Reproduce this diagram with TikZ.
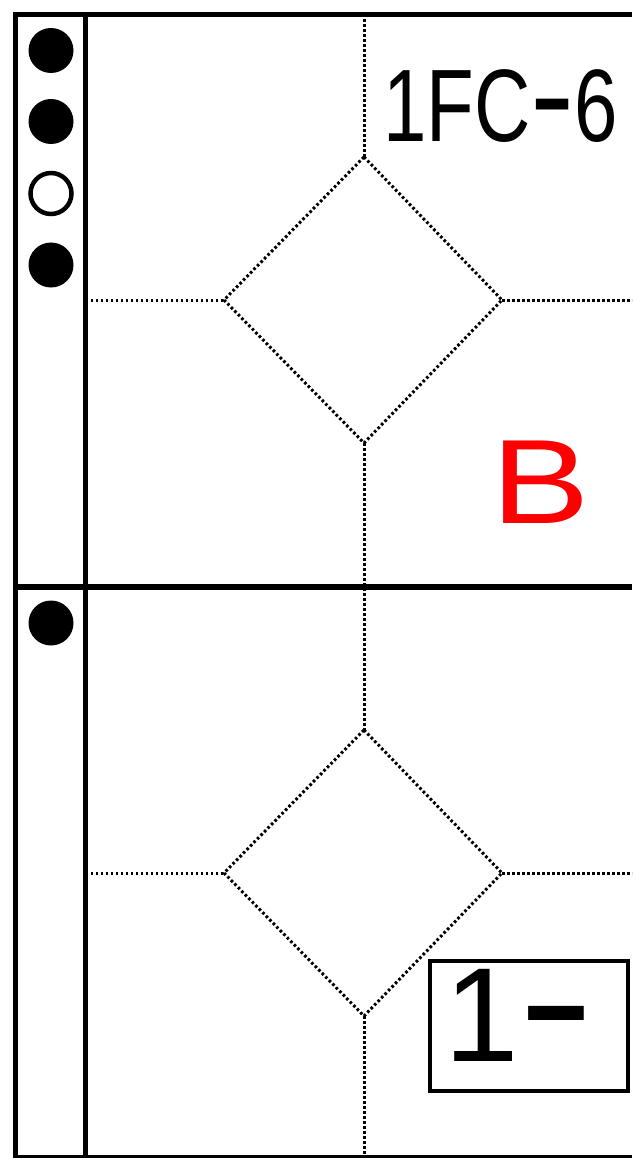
\documentclass[tikz,border=0pt]{standalone}
\usepackage{fontspec}
\setmainfont{Liberation Sans}
\usepackage{graphicx}
\newcommand{\middash}{\scalebox{1.7}[1.35]{-}}

\begin{document}
\begin{tikzpicture}[x=1pt,y=-1pt,
	frame/.style={line width=5.5pt},
	guide/.style={line width=3pt, dash pattern=on 2.6pt off 2.4pt},
	hole/.style={line width=4.5pt}]
	\useasboundingbox (0,0) rectangle (632,1158);
	% sheet outline and binding strip
	\draw[frame] (632,14.5) -- (15.5,14.5) -- (15.5,1160);
	\draw[frame] (85.5,14.5) -- (85.5,1160);
	\draw[frame] (15.5,587) -- (632,587);
	\draw[frame] (15.5,1158) -- (632,1158);
	% punch marks
	\foreach \y in {50.5,121.5,265,623} {
		\fill (51,\y) circle (22.5);
	}
	\draw[hole] (51,193.5) circle (20.5);
	% dotted centre line
	\draw[guide] (364,14.5) -- (364,157);
	\draw[guide] (364,443) -- (364,730);
	\draw[guide] (364,1016) -- (364,1158);
	% one diamond with side guides per panel
	\foreach \oy in {0,573} {
		\draw[guide] (364,157+\oy) -- (502,300+\oy) -- (364,443+\oy) -- (224,300+\oy) -- cycle;
		\draw[guide] (85.5,300+\oy) -- (224,300+\oy);
		\draw[guide] (502,300+\oy) -- (632,300+\oy);
	}
	% labels
	\node[anchor=base west, inner sep=0, xscale=0.757] (code) at (383,142) {\fontsize{103}{103}\selectfont 1FC\middash6};
	\node[anchor=base west, inner sep=0, xscale=1.23, text=red] (grade) at (491,523) {\fontsize{120}{120}\selectfont B};
	\draw[line width=4.5pt] (430,961) rectangle (628,1091);
	\node[anchor=base west, inner sep=0] (tag) at (444,1061) {\fontsize{134}{134}\selectfont 1\middash};
\end{tikzpicture}
\end{document}
